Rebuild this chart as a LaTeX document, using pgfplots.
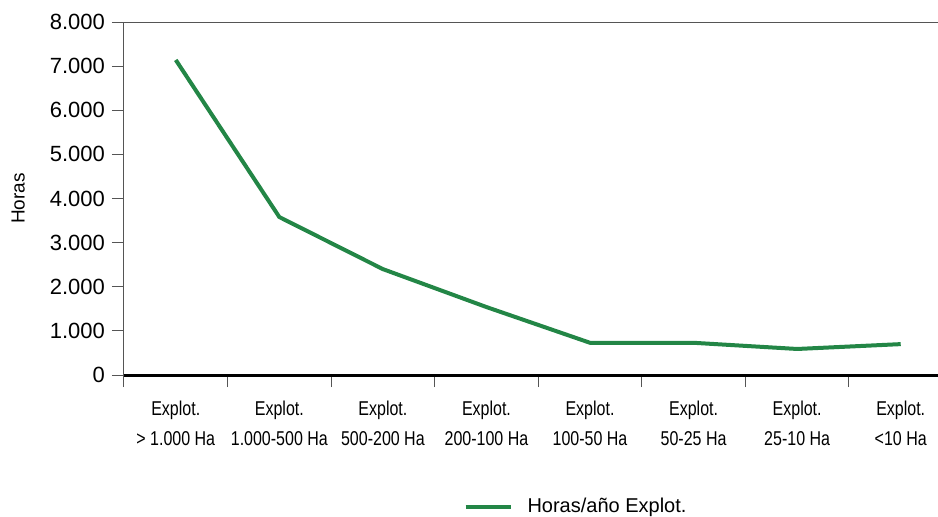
\documentclass[border=0pt]{standalone}
\usepackage{pgfplots}
\pgfplotsset{compat=1.18}
\usepackage{fontspec}
\setmainfont{Liberation Sans}
\definecolor{linegreen}{RGB}{35,134,70}
\definecolor{axisgray}{RGB}{85,85,85}
\newcommand\sx[1]{\scalebox{0.8}[1]{#1}}

\begin{document}
\begin{tikzpicture}
\begin{axis}[
  at={(0,0)}, anchor=south west,
  scale only axis, width=407pt, height=176.5pt,
  xmin=-0.5, xmax=7.36, ymin=0, ymax=8000,
  clip=false,
  axis x line*=bottom, axis y line*=left,
  x axis line style={black, line width=1.5pt, -},
  y axis line style={axisgray, line width=0.5pt, -, shorten <=-5pt},
  tick align=outside,
  major tick length=6pt, minor tick length=6pt,
  xtick={0,...,7},
  major x tick style={draw=none},
  minor xtick={-0.5,0.5,...,6.5},
  minor x tick style={axisgray, line width=0.5pt},
  ytick={0,1000,...,8000},
  ytick style={axisgray, line width=0.5pt},
  scaled y ticks=false,
  /pgf/number format/1000 sep={.},
  /pgf/number format/assume math mode=true,
  yticklabel style={font=\fontsize{11}{11}\selectfont},
  xticklabels={
    {\sx{Explot.}\\\sx{> 1.000 Ha}},
    {\sx{Explot.}\\\sx{1.000-500 Ha}},
    {\sx{Explot.}\\\sx{500-200 Ha}},
    {\sx{Explot.}\\\sx{200-100 Ha}},
    {\sx{Explot.}\\\sx{100-50 Ha}},
    {\sx{Explot.}\\\sx{50-25 Ha}},
    {\sx{Explot.}\\\sx{25-10 Ha}},
    {\sx{Explot.}\\\sx{<10 Ha}}},
  xticklabel style={align=center, font=\fontsize{10}{15}\selectfont, yshift=-3.5pt},
  ylabel={Horas},
  ylabel style={at={(axis description cs:-0.130,0.5)}, anchor=center, font=\fontsize{9.5}{11}\selectfont},
  legend style={draw=none, at={(axis description cs:0.5565,-0.374)}, anchor=center,
    font=\fontsize{10}{12}\selectfont},
  legend image code/.code={\draw[#1] (0pt,0pt) -- (22.5pt,0pt); \path (28pt,0pt);},
]
\addplot[linegreen, line width=2pt] coordinates {
  (0,7140) (1,3580) (2,2400) (3,1540) (4,730) (5,730) (6,590) (7,700)
};
\addlegendentry{Horas/año Explot.}
\draw[axisgray, line width=0.5pt] (rel axis cs:0,1) -- (rel axis cs:1,1);
\end{axis}
\pgfresetboundingbox
\path[use as bounding box] (-62pt,-70.5pt) rectangle (407pt,187.5pt);
\end{tikzpicture}
\end{document}
